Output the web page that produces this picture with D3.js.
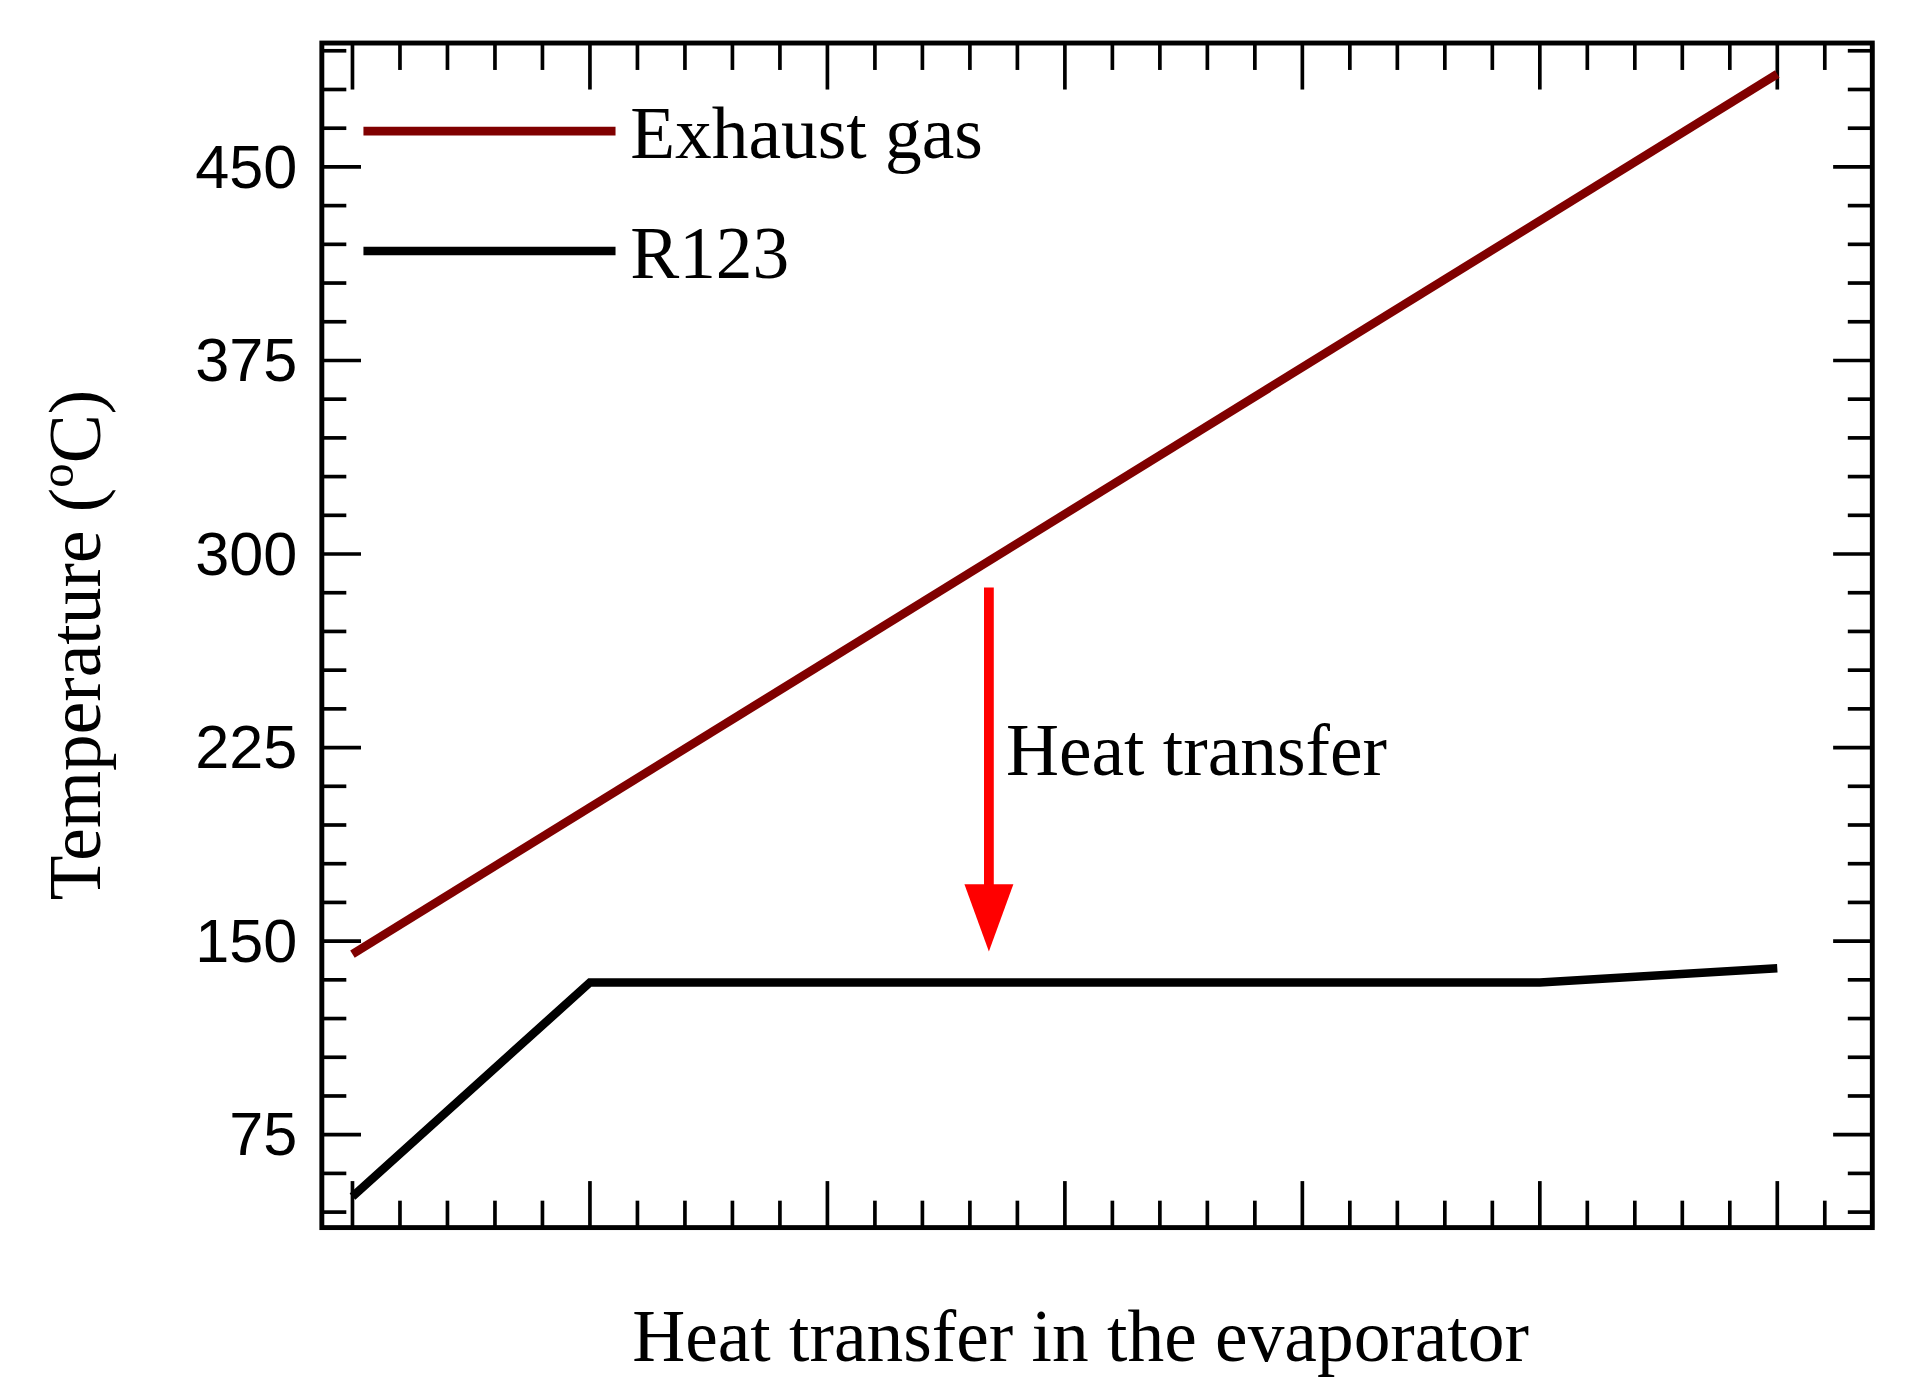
<!DOCTYPE html>
<html><head><meta charset="utf-8">
<script src="https://cdn.jsdelivr.net/npm/d3@7"></script>
<style>body{margin:0;background:#fff}</style></head>
<body><svg id="c"></svg>
<script>
const exhaustX=[0,6], exhaustY=[145,486];
const r123X=[0,1,5,6], r123Y=[51,134,134,139.5];
const yTicks=[75,150,225,300,375,450];
const seriesNames=["Exhaust gas","R123"];
const arrowX=2.68, arrowFrom=287, arrowTo=146;

const svg=d3.select("#c").attr("width",1909).attr("height",1393).attr("viewBox","0 0 1560 1138");
const L=263,R=1530,T=35,B=1003;
const x=d3.scaleLinear().domain([-0.129,6.4]).range([L,R]);
const y=d3.scaleLinear().domain([39,498]).range([B,T]);
const serif="'Liberation Serif','Times New Roman',serif", sans="'Liberation Sans',Arial,sans-serif";

const minorY=d3.range(45,499,15), minorX=d3.range(0,6.41,0.2);
const g=svg.append("g").attr("stroke","#000").attr("stroke-width",3);
minorY.forEach(v=>{const maj=yTicks.includes(v)||(v-75)%75===0;const len=maj?32:20;
 g.append("line").attr("x1",L).attr("x2",L+len).attr("y1",y(v)).attr("y2",y(v));
 g.append("line").attr("x1",R).attr("x2",R-len).attr("y1",y(v)).attr("y2",y(v));});
minorX.forEach(v=>{const maj=Math.abs(v-Math.round(v))<1e-6;const len=maj?38:22;
 g.append("line").attr("y1",B).attr("y2",B-len).attr("x1",x(v)).attr("x2",x(v));
 g.append("line").attr("y1",T).attr("y2",T+len).attr("x1",x(v)).attr("x2",x(v));});
svg.append("rect").attr("x",L).attr("y",T).attr("width",R-L).attr("height",B-T).attr("fill","none").attr("stroke","#000").attr("stroke-width",4);

yTicks.forEach(v=>svg.append("text").attr("x",243).attr("y",y(v)+17).attr("text-anchor","end").attr("font-family",sans).attr("font-size",50).text(v));

const line=d3.line().x(d=>x(d[0])).y(d=>y(d[1]));
svg.append("path").datum(exhaustX.map((v,i)=>[v,exhaustY[i]])).attr("d",line).attr("fill","none").attr("stroke","#800000").attr("stroke-width",7);
svg.append("path").datum(r123X.map((v,i)=>[v,r123Y[i]])).attr("d",line).attr("fill","none").attr("stroke","#000").attr("stroke-width",7);

// arrow
const ax=x(arrowX);
svg.append("line").attr("x1",ax).attr("x2",ax).attr("y1",y(arrowFrom)).attr("y2",y(arrowTo)-40).attr("stroke","#f00").attr("stroke-width",8);
svg.append("path").attr("d",`M${ax-20},${y(arrowTo)-55} L${ax+20},${y(arrowTo)-55} L${ax},${y(arrowTo)} Z`).attr("fill","#f00");
svg.append("text").attr("x",822).attr("y",633).attr("font-family",serif).attr("font-size",60).text("Heat transfer");

// legend
[[107,"#800000"],[205,"#000"]].forEach((d,i)=>{
 svg.append("line").attr("x1",297).attr("x2",503).attr("y1",d[0]).attr("y2",d[0]).attr("stroke",d[1]).attr("stroke-width",7);
 svg.append("text").attr("x",515).attr("y",d[0]+22).attr("font-family",serif).attr("font-size",60).text(seriesNames[i]);});

svg.append("text").attr("x",883).attr("y",1112).attr("text-anchor","middle").attr("font-family",serif).attr("font-size",60).text("Heat transfer in the evaporator");
const yl=svg.append("text").attr("transform","translate(82,527) rotate(-90)").attr("text-anchor","middle").attr("font-family",serif).attr("font-size",60);
yl.append("tspan").text("Temperature (");
yl.append("tspan").attr("dy",-22).attr("font-size",40).text("o");
yl.append("tspan").attr("dy",22).text("C)");
</script></body></html>
